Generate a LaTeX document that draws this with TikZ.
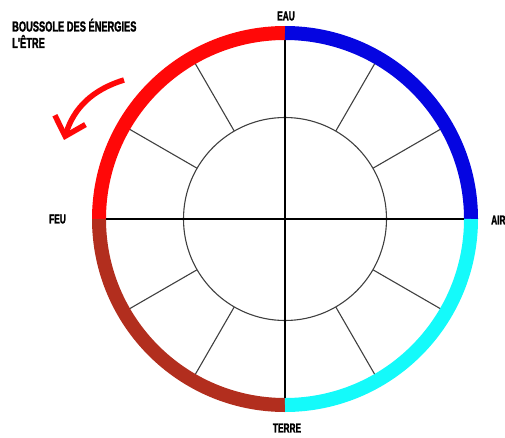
\documentclass[tikz,border=0pt]{standalone}
\usepackage{fontspec}
\newfontfamily\boussfont{Liberation Sans}[FakeStretch=0.64, BoldFeatures={FakeBold=1.6}]
\usetikzlibrary{arrows.meta}
\definecolor{feu}{RGB}{255,8,8}
\definecolor{eau}{RGB}{5,5,225}
\definecolor{terre}{RGB}{178,46,30}
\definecolor{air}{RGB}{20,250,250}
\tikzset{
  ring/.style={line width=14pt},
  axe/.style={line width=2.8pt, black},
  spoke/.style={line width=1.1pt, black!75},
  lbl/.style={font=\boussfont\bfseries\fontsize{13}{14}\selectfont, inner sep=0pt},
  titre/.style={font=\boussfont\bfseries\fontsize{14.5}{16}\selectfont, inner sep=0pt, anchor=base west},
}
\def\rR{186}
\def\rI{101.5}
\def\rE{179}

\begin{document}
\begin{tikzpicture}[x=1pt, y=1pt]
\useasboundingbox (0,0) rectangle (505,437);
\coordinate (c) at (285,218);

% anneau des quatre elements
\draw[ring, feu] (c) ++(90:\rR) arc[start angle=90, end angle=180, radius=\rR];
\draw[ring, eau] (c) ++(0:\rR) arc[start angle=0, end angle=90, radius=\rR];
\draw[ring, terre] (c) ++(180:\rR) arc[start angle=180, end angle=270, radius=\rR];
\draw[ring, air] (c) ++(270:\rR) arc[start angle=270, end angle=360, radius=\rR];

% cercle interieur et rayons
\draw[spoke] (c) circle[radius=\rI];
\foreach \a in {30,60,120,150,210,240,300,330}
  \draw[spoke] (c) ++(\a:\rI) -- ++(\a:\rE-\rI);
\draw[axe] (c) ++(180:\rE) -- ++(0:2*\rE);
\draw[axe] (c) ++(-90:\rE) -- ++(90:2*\rE);

% points cardinaux
\node[lbl] (eau) at (286,421) {EAU};
\node[lbl, anchor=west] (air) at (491,217) {AIR};
\node[lbl] (feu) at (57.5,218) {FEU};
\node[lbl] (terre) at (287,9) {TERRE};

% titre
\node[titre] (t1) at (12,405.5) {BOUSSOLE DES ÉNERGIES};
\node[titre] (t2) at (12,389) {L'ÊTRE};

% sens de rotation
\coordinate (fa) at (124,357);
\coordinate (fb) at (64,297);
\draw[feu, line width=5.5pt, -{Straight Barb[length=17pt, width=32pt]}] (fa) to[bend right=28] (fb);

\end{tikzpicture}
\end{document}
